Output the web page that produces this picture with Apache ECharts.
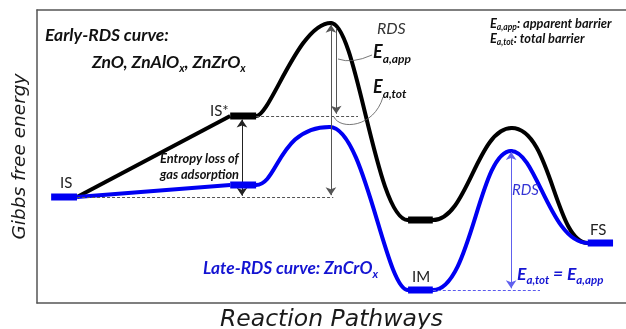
<!DOCTYPE html>
<html>
<head>
<meta charset="utf-8">
<script src="https://cdn.jsdelivr.net/npm/echarts@6/dist/echarts.min.js"></script>
<style>
  html, body { margin: 0; padding: 0; background: #fff; }
  #chart { width: 626px; height: 329px; }
</style>
</head>
<body>
<div id="chart"></div>
<script>
// Schematic free-energy profiles; x = reaction coordinate (0-100), y = relative Gibbs energy (0-100)

// Level of each state
const levelIS = 36.2;
const earlyISstar = 63.8;
const lateISstar = 40.3;
const earlyIM = 28.3;
const lateIM = 4.4;
const levelFS = 20.5;

// Straight adsorption step IS -> IS*
const earlyAdsorption = [[6.8, 36.2], [32.8, 63.8]];
const lateAdsorption = [[6.8, 36.2], [32.8, 40.3]];

// Stationary points after IS*: IS* end, TS1, IM start, IM end, TS2, FS
const earlyNodes = [[37.2, 63.8], [49.9, 95.6], [63.0, 28.3], [67.2, 28.3], [80.6, 59.7], [93.5, 20.5]];
const lateNodes = [[37.2, 40.3], [49.7, 60.1], [63.0, 4.4], [67.2, 4.4], [80.5, 51.9], [93.5, 20.5]];

// Bezier handle fractions (along x) of each segment between stationary points
const earlyHandles = [[0.19, 0.57], [0.34, 0.58], [0.33, 0.67], [0.44, 0.56], [0.52, 0.57]];
const lateHandles = [[0.30, 0.30], [0.45, 0.71], [0.33, 0.67], [0.49, 0.59], [0.33, 0.51]];

// Horizontal extents of the state plateaus
const spanIS = [2.4, 6.8];
const spanISstar = [32.8, 37.2];
const spanIM = [63.0, 67.2];
const spanFS = [93.5, 97.8];

// Positions of the barrier arrows along the reaction coordinate
const xEntropy = 34.8;
const xEaTot = 49.9;
const xEaApp = 50.8;
const xLateRDS = 80.5;
const earlyTS = 95.6;
const lateTS2 = 51.9;

const BLACK = '#000000';
const BLUE = '#0000f2';
const TXT_BLUE = '#1414d2';

function plateau(span, y) { return [[span[0], y], [span[1], y]]; }

function straight(data, color) {
  return { type: 'line', data: data, symbol: 'none', silent: true,
    lineStyle: { color: color, width: 4 }, z: 3 };
}
// Energy profile: each segment between stationary points is a cubic with flat ends
function profile(nodes, handles, color) {
  return {
    type: 'custom', silent: true, z: 3, data: nodes,
    renderItem: function (params, api) {
      const i = params.dataIndex;
      if (i >= nodes.length - 1) return null;
      const p0 = api.coord([api.value(0), api.value(1)]);
      const p1 = api.coord(nodes[i + 1]);
      const dx = p1[0] - p0[0];
      const h = handles[i];
      return {
        type: 'bezierCurve',
        shape: { x1: p0[0], y1: p0[1], cpx1: p0[0] + h[0] * dx, cpy1: p0[1],
          cpx2: p0[0] + h[1] * dx, cpy2: p1[1], x2: p1[0], y2: p1[1] },
        style: { stroke: color, lineWidth: 4, fill: null, lineCap: 'round' }
      };
    }
  };
}
function bar(data, color) {
  return { type: 'line', data: data, symbol: 'none', silent: true,
    lineStyle: { color: color, width: 7, cap: 'butt' }, z: 5 };
}
function seg(coords, color, type, symbols, width) {
  return { type: 'lines', coordinateSystem: 'cartesian2d', silent: true, z: 4,
    symbol: symbols || ['none', 'none'], symbolSize: 8,
    lineStyle: { color: color, width: width || 1, type: type || 'solid', opacity: 1 },
    data: [{ coords: coords }] };
}

const boldIt = { fontFamily: 'Lato', fontStyle: 'italic', fontWeight: 'bold' };
function rt(x, y, text, rich, color) {
  const r = {};
  Object.keys(rich).forEach(function (k) {
    r[k] = Object.assign({}, boldIt, { fill: color }, rich[k]);
  });
  return { type: 'text', x: x, y: y, silent: true, z: 10,
    style: { text: text, rich: r, verticalAlign: 'middle', align: 'left' } };
}
function plain(x, y, text, size, color, style, weight, family) {
  return { type: 'text', x: x, y: y, silent: true, z: 10,
    style: { text: text, fill: color, fontSize: size, fontFamily: family || 'Lato',
      fontStyle: style || 'normal', fontWeight: weight || 'normal',
      verticalAlign: 'middle', align: 'left' } };
}

const chart = echarts.init(document.getElementById('chart'), null, { renderer: 'canvas' });

const axisLine = { show: true, onZero: false, lineStyle: { color: '#555', width: 1.5 } };

chart.setOption({
  animation: false,
  backgroundColor: '#fff',
  grid: { left: 37, right: 0, top: 10, bottom: 26, containLabel: false, outerBoundsMode: 'none' },
  xAxis: [
    { type: 'value', min: 0, max: 100, axisLine: axisLine, axisTick: { show: false },
      axisLabel: { show: false }, splitLine: { show: false },
      name: 'Reaction Pathways', nameLocation: 'middle', nameGap: 5,
      nameTextStyle: { fontFamily: 'DejaVu Sans', fontStyle: 'italic', fontSize: 23.5,
        color: '#1a1a1a', verticalAlign: 'top' } },
    { type: 'value', position: 'top', min: 0, max: 100, axisLine: axisLine,
      axisTick: { show: false }, axisLabel: { show: false }, splitLine: { show: false } }
  ],
  yAxis: {
    type: 'value', min: 0, max: 100, axisLine: axisLine, axisTick: { show: false },
    axisLabel: { show: false }, splitLine: { show: false },
    name: 'Gibbs free energy', nameLocation: 'middle', nameGap: 7,
    nameTextStyle: { fontFamily: 'DejaVu Sans', fontStyle: 'italic', fontSize: 18.5,
      color: '#1a1a1a', verticalAlign: 'bottom' }
  },
  series: [
    // reference levels
    seg([[spanISstar[1], earlyISstar], [54.5, earlyISstar]], '#555', [3, 2]),
    seg([[spanIS[1], levelIS], [50.3, levelIS]], '#555', [3, 2]),
    seg([[spanIM[1], lateIM], [85.4, lateIM]], '#5a5aee', [3, 2]),
    // profiles
    straight(earlyAdsorption, BLACK),
    profile(earlyNodes, earlyHandles, BLACK),
    straight(lateAdsorption, BLUE),
    profile(lateNodes, lateHandles, BLUE),
    // state plateaus
    bar(plateau(spanISstar, earlyISstar), BLACK),
    bar(plateau(spanIM, earlyIM), BLACK),
    bar(plateau(spanIS, levelIS), BLUE),
    bar(plateau(spanISstar, lateISstar), BLUE),
    bar(plateau(spanIM, lateIM), BLUE),
    bar(plateau(spanFS, levelFS), BLUE),
    // barrier arrows
    seg([[xEntropy, levelIS + 0.4], [xEntropy, earlyISstar - 1.2]], '#222', 'solid', ['arrow', 'arrow']),
    seg([[xEaTot, earlyTS - 0.6], [xEaTot, levelIS + 0.6]], '#555', 'solid', ['arrow', 'arrow']),
    seg([[xEaApp, earlyTS - 2.0], [xEaApp, earlyISstar + 0.8]], '#555', 'solid', ['none', 'arrow']),
    seg([[xLateRDS, lateIM + 0.6], [xLateRDS, lateTS2 - 0.4]], '#6060ee', 'solid', ['arrow', 'arrow'])
  ],
  graphic: [
    rt(45, 35, '{b|Early-RDS curve:}', { b: { fontSize: 17.5 } }, '#111'),
    rt(92, 62, '{b|ZnO, ZnAlO}{s|x}{b|, ZnZrO}{s|x}',
      { b: { fontSize: 17.5, lineHeight: 24 }, s: { fontSize: 11, lineHeight: 12, verticalAlign: 'bottom' } }, '#111'),
    plain(210, 111, 'IS*', 15, '#222'),
    plain(60, 183, 'IS', 15, '#222'),
    plain(412, 277, 'IM', 15, '#222'),
    plain(590, 230, 'FS', 15, '#222'),
    rt(160, 159, '{b|Entropy loss of}', { b: { fontSize: 12.8 } }, '#111'),
    rt(160, 175, '{b|gas adsorption}', { b: { fontSize: 12.8 } }, '#111'),
    rt(203, 268, '{b|Late-RDS curve: ZnCrO}{s|x}',
      { b: { fontSize: 17.3, lineHeight: 24 }, s: { fontSize: 11.5, lineHeight: 12, verticalAlign: 'bottom' } }, TXT_BLUE),
    plain(377, 29, 'RDS', 16, '#333', 'italic'),
    rt(373, 52, '{E|E}{s|a,app}',
      { E: { fontSize: 18, lineHeight: 26 }, s: { fontSize: 12, lineHeight: 13, verticalAlign: 'bottom' } }, '#111'),
    rt(373, 87, '{E|E}{s|a,tot}',
      { E: { fontSize: 18, lineHeight: 26 }, s: { fontSize: 12, lineHeight: 13, verticalAlign: 'bottom' } }, '#111'),
    plain(512, 190, 'RDS', 15, '#3434d4', 'italic'),
    rt(517, 274, '{E|E}{s|a,tot}{E| = E}{s|a,app}',
      { E: { fontSize: 17.5, lineHeight: 24 }, s: { fontSize: 11.5, lineHeight: 12, verticalAlign: 'bottom' } }, TXT_BLUE),
    rt(490, 24, '{E|E}{s|a,app}{t|: apparent barrier}',
      { E: { fontSize: 12.8, lineHeight: 16 }, s: { fontSize: 8.5, lineHeight: 8, verticalAlign: 'bottom' }, t: { fontSize: 12.8, lineHeight: 16 } }, '#111'),
    rt(490, 39, '{E|E}{s|a,tot}{t|: total barrier}',
      { E: { fontSize: 12.8, lineHeight: 16 }, s: { fontSize: 8.5, lineHeight: 8, verticalAlign: 'bottom' }, t: { fontSize: 12.8, lineHeight: 16 } }, '#111'),
    // leader lines from the barrier labels to their arrows
    { type: 'bezierCurve', silent: true, z: 10,
      shape: { x1: 338, y1: 59, cpx1: 352, cpy1: 64, x2: 372, y2: 55 },
      style: { stroke: '#555', lineWidth: 0.8, fill: null } },
    { type: 'bezierCurve', silent: true, z: 10,
      shape: { x1: 334, y1: 117, cpx1: 340, cpy1: 130, cpx2: 374, cpy2: 128, x2: 383, y2: 97 },
      style: { stroke: '#555', lineWidth: 0.8, fill: null } }
  ]
});
</script>
</body>
</html>
